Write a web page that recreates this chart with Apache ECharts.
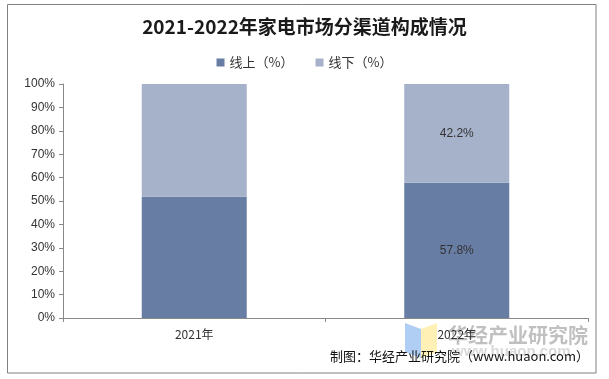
<!DOCTYPE html>
<html><head><meta charset="utf-8">
<script src="https://cdn.jsdelivr.net/npm/echarts@6/dist/echarts.min.js"></script>
<style>html,body{margin:0;padding:0;background:#fff}#c{width:609px;height:379px}</style>
</head><body><div id="c"></div>
<script>
var categories = ['2021年', '2022年'];
var online = [51.8, 57.8];
var offline = [48.2, 42.2];
var showLabel = [false, true];
var yTicks = [0, 10, 20, 30, 40, 50, 60, 70, 80, 90, 100];

var chart = echarts.init(document.getElementById('c'), null, {renderer: 'canvas'});
function mk(vals) {
  return vals.map(function (v, i) {
    return {value: v, label: {show: showLabel[i]}};
  });
}
var option = {
  animation: false,
  title: {
    text: '2021-2022年家电市场分渠道构成情况',
    left: 'center', top: 12,
    textStyle: {fontFamily: 'Noto Sans CJK SC', fontWeight: 'bold', fontSize: 19, color: '#1a1a1a'}
  },
  legend: {
    top: 51, left: 'center', itemWidth: 8, itemHeight: 8, itemGap: 22, icon: 'rect',
    textStyle: {fontFamily: 'Noto Sans CJK SC', fontSize: 13, color: '#333'},
    data: ['线上（%）', '线下（%）']
  },
  grid: {left: 63, right: 21, top: 84, bottom: 61, containLabel: false},
  xAxis: {
    type: 'category', data: categories,
    axisLine: {lineStyle: {color: '#888'}},
    axisTick: {show: true, lineStyle: {color: '#888'}, length: 4},
    axisLabel: {fontFamily: 'Noto Sans CJK SC', fontSize: 12, color: '#333', margin: 10}
  },
  yAxis: {
    type: 'value', min: 0, max: 100, interval: 10,
    axisLine: {show: true, lineStyle: {color: '#888'}},
    axisTick: {show: true, length: 4, lineStyle: {color: '#888'}},
    splitLine: {show: false},
    axisLabel: {fontFamily: 'Liberation Sans', fontSize: 12, color: '#333', margin: 8,
      formatter: function (v) { return yTicks.indexOf(v) >= 0 ? v + '%' : ''; }}
  },
  series: [
    {name: '线上（%）', type: 'bar', stack: 's', barWidth: '40%', data: mk(online),
      itemStyle: {color: '#687DA3'},
      label: {position: 'inside', formatter: '{c}%', fontFamily: 'Liberation Sans', fontSize: 12, color: '#333'}},
    {name: '线下（%）', type: 'bar', stack: 's', barWidth: '40%', data: mk(offline),
      itemStyle: {color: '#A6B2CA'},
      label: {position: 'inside', formatter: '{c}%', fontFamily: 'Liberation Sans', fontSize: 12, color: '#333'}}
  ],
  graphic: [
    {type: 'rect', shape: {x: 7.5, y: 4.5, width: 588.5, height: 368.5}, style: {fill: 'none', stroke: '#808080', lineWidth: 1}, silent: true},
    {type: 'polygon', shape: {points: [[405, 323], [421, 329], [421, 358], [405, 352]]}, style: {fill: 'rgba(150,190,240,0.75)'}, z: 0},
    {type: 'polygon', shape: {points: [[421, 329], [437, 323], [437, 352], [421, 358]]}, style: {fill: 'rgba(255,235,150,0.7)'}, z: 0},
    {type: 'text', x: 448, y: 325, style: {text: '华经产业研究院', font: 'bold 20px "Noto Sans CJK SC"', fill: 'rgba(150,150,150,0.6)'}, z: 0},
    {type: 'text', x: 452, y: 344, style: {text: 'www.huaon.com', font: 'bold 15px "Liberation Sans"', fill: 'rgba(170,170,170,0.45)'}, z: 0},
    {type: 'text', right: 20, top: 350, style: {text: '制图：华经产业研究院（www.huaon.com）', font: '13px "Noto Sans CJK SC"', fill: '#111'}, z: 10}
  ]
};
chart.setOption(option);
</script></body></html>
